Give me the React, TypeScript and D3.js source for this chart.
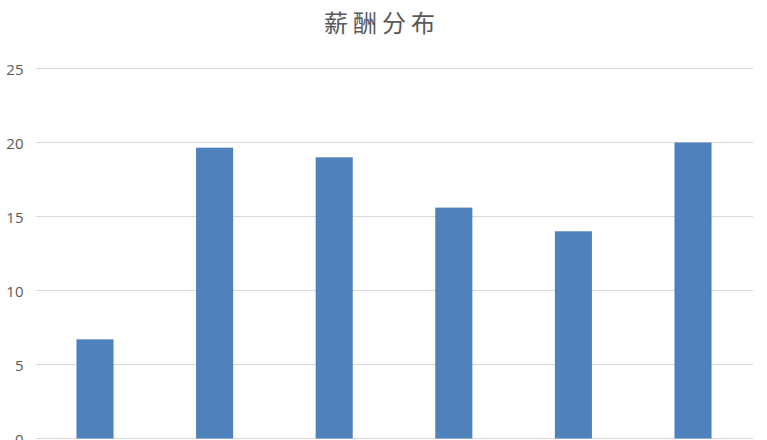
import React from "react";
import * as d3 from "d3";

const title = "薪酬分布";
const categories = ["A", "B", "C", "D", "E", "F"];
const values = [6.7, 19.65, 19.0, 15.6, 14.0, 20.0];
const yTicks = [0, 5, 10, 15, 20, 25];

const W = 767;
const H = 440;

export default function App() {
  const x = d3.scaleBand<string>().domain(categories).range([35.2, 752.8]).padding(0);
  const y = d3.scaleLinear().domain([0, 25]).range([438.5, 68.5]);
  const barW = x.bandwidth() * 0.31;

  return (
    <svg
      width={W}
      height={H}
      style={{ position: "absolute", left: 0, top: 0, background: "#fff" }}
    >
      <text
        x={382}
        y={21.5}
        textAnchor="middle"
        dominantBaseline="central"
        fontFamily="'Noto Sans CJK SC', sans-serif"
        fontSize={24}
        letterSpacing={5}
        fill="#595959"
      >
        {title}
      </text>
      {yTicks.map((t) => (
        <g key={t}>
          <line x1={36} x2={753} y1={y(t)} y2={y(t)} stroke="#d9d9d9" strokeWidth={1} />
          <text
            x={23.5}
            y={y(t)}
            textAnchor="end"
            dominantBaseline="central"
            fontFamily="'Open Sans', sans-serif"
            fontSize={15}
            fill="#595959"
          >
            {t}
          </text>
        </g>
      ))}
      {categories.map((c, i) => (
        <rect
          key={c}
          x={(x(c) as number) + x.bandwidth() / 2 - barW / 2}
          y={y(values[i])}
          width={barW}
          height={y(0) - y(values[i])}
          fill="#4f81bd"
        />
      ))}
    </svg>
  );
}
